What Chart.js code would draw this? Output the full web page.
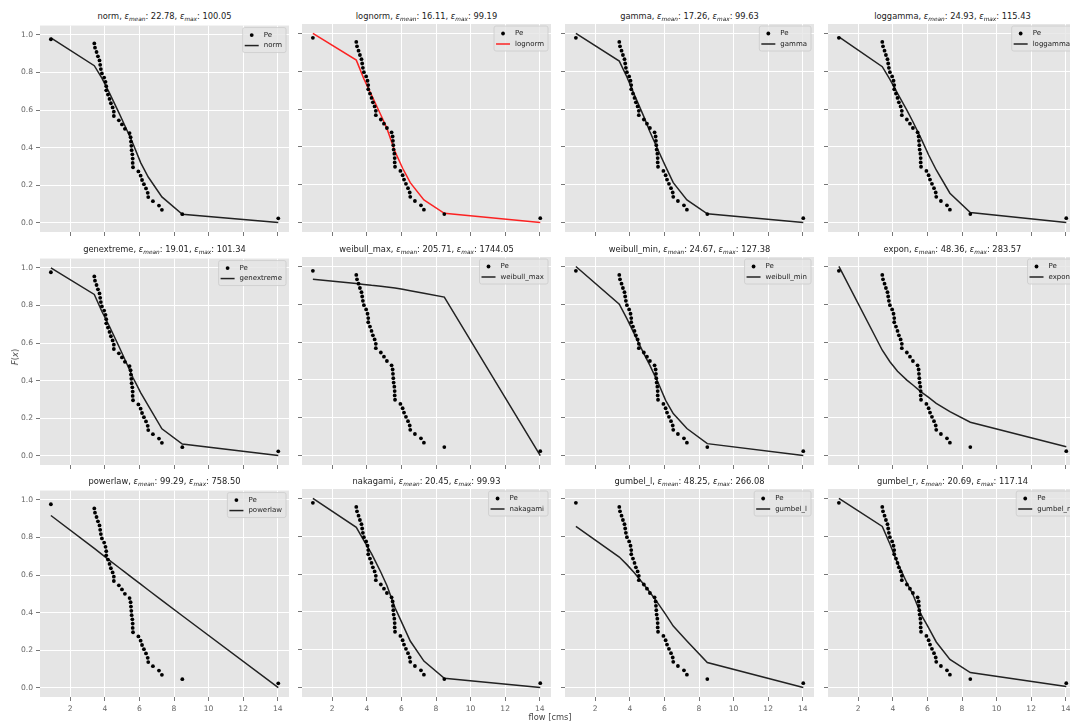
<!DOCTYPE html>
<html lang="en">
<head>
<meta charset="UTF-8">
<title>Flow distribution fits</title>
<script src="https://cdn.jsdelivr.net/npm/chart.js"></script>
<style>
  html, body { margin: 0; padding: 0; background: #fff; overflow: hidden; }
  body { width: 1070px; height: 722px; position: relative; font-family: "DejaVu Sans", sans-serif; }
  .panel { position: absolute; }
  .ttl { position: absolute; text-align: center; font-size: 8.3px; line-height: 12px; color: #222; white-space: nowrap; }
  .ttl .sb { font-size: 0.7em; font-style: italic; position: relative; top: 0.3em; }
  .ylab { position: absolute; left: 15px; top: 357px; font-size: 8.3px; color: #444; transform: translate(-50%, -50%) rotate(-90deg); white-space: nowrap; }
  .xlab { position: absolute; left: 550px; top: 717px; font-size: 8.3px; color: #444; transform: translate(-50%, -50%); white-space: nowrap; }
</style>
</head>
<body>
<div id="fig"></div>
<div class="ylab"><i>F</i>(<i>x</i>)</div>
<div class="xlab">flow [cms]</div>

<script>
// observed flows (sorted) and their exceedance plotting positions
const flowX = [0.88, 3.39, 3.43, 3.52, 3.60, 3.69, 3.73, 3.77, 3.83, 3.96, 4.04, 4.08, 4.08, 4.18, 4.27,
               4.35, 4.45, 4.52, 4.52, 4.81, 4.99, 5.16, 5.43, 5.49, 5.51, 5.53, 5.55, 5.59, 5.61, 5.61,
               5.63, 5.94, 6.07, 6.15, 6.26, 6.38, 6.48, 6.51, 6.78, 7.13, 7.30, 8.48, 14.03];
const peF = [0.977, 0.955, 0.932, 0.909, 0.886, 0.864, 0.841, 0.818, 0.795, 0.773, 0.750, 0.727, 0.705, 0.682, 0.659,
             0.636, 0.614, 0.591, 0.568, 0.545, 0.523, 0.500, 0.477, 0.455, 0.432, 0.409, 0.386, 0.364, 0.341, 0.318,
             0.295, 0.273, 0.250, 0.227, 0.205, 0.182, 0.159, 0.136, 0.114, 0.091, 0.068, 0.045, 0.023];

// flows where the fitted curves are read
const fitX = [0.88, 3.39, 3.83, 4.27, 4.81, 5.16, 5.63, 6.07, 6.51, 7.30, 8.48, 14.03];

const fitNorm       = [0.985, 0.836, 0.770, 0.690, 0.586, 0.516, 0.420, 0.320, 0.243, 0.137, 0.044, 0.000];
const fitLognorm    = [1.000, 0.859, 0.760, 0.674, 0.569, 0.498, 0.375, 0.287, 0.211, 0.120, 0.049, 0.000];
const fitGamma      = [1.000, 0.854, 0.770, 0.674, 0.560, 0.480, 0.384, 0.296, 0.211, 0.120, 0.046, 0.000];
const fitLoggamma   = [0.982, 0.824, 0.757, 0.683, 0.595, 0.533, 0.445, 0.357, 0.278, 0.155, 0.053, 0.000];
const fitGenextreme = [1.000, 0.859, 0.768, 0.688, 0.583, 0.512, 0.415, 0.336, 0.266, 0.143, 0.062, 0.000];
const fitWeibullMax = [0.932, 0.910, 0.905, 0.900, 0.895, 0.891, 0.886, 0.879, 0.872, 0.858, 0.838, 0.000];
const fitWeibullMin = [1.000, 0.800, 0.724, 0.641, 0.539, 0.477, 0.386, 0.292, 0.222, 0.143, 0.063, 0.000];
const fitExpon      = [1.000, 0.557, 0.496, 0.446, 0.399, 0.373, 0.337, 0.308, 0.276, 0.232, 0.176, 0.047];
const fitPowerlaw   = [0.917, 0.742, 0.710, 0.678, 0.640, 0.615, 0.582, 0.551, 0.520, 0.465, 0.383, 0.000];
const fitNakagami   = [1.000, 0.847, 0.777, 0.708, 0.610, 0.540, 0.422, 0.334, 0.246, 0.140, 0.049, 0.000];
const fitGumbelL    = [0.852, 0.690, 0.650, 0.606, 0.545, 0.504, 0.445, 0.387, 0.325, 0.246, 0.132, 0.000];
const fitGumbelR    = [1.000, 0.852, 0.759, 0.659, 0.554, 0.492, 0.387, 0.316, 0.241, 0.149, 0.079, 0.005];

const distNames = ['norm', 'lognorm', 'gamma', 'loggamma', 'genextreme', 'weibull_max',
                   'weibull_min', 'expon', 'powerlaw', 'nakagami', 'gumbel_l', 'gumbel_r'];
const errMean = ['22.78', '16.11', '17.26', '24.93', '19.01', '205.71', '24.67', '48.36', '99.29', '20.45', '48.25', '20.69'];
const errMax  = ['100.05', '99.19', '99.63', '115.43', '101.34', '1744.05', '127.38', '283.57', '758.50', '99.93', '266.08', '117.14'];
const fitF = [fitNorm, fitLognorm, fitGamma, fitLoggamma, fitGenextreme, fitWeibullMax,
              fitWeibullMin, fitExpon, fitPowerlaw, fitNakagami, fitGumbelL, fitGumbelR];
const bestFit = 'lognorm';

// panel geometry (plot areas)
const colLeft = [40, 302, 565, 828];
const rowTop = [24, 257, 489];
const plotW = 249, plotH = 208;
const padL = 40, padR = 12, padT = 6, padB = 21;

const tickFont = { family: 'DejaVu Sans', size: 7.6 };

// grey panel background
const panelBg = {
  id: 'panelBg',
  beforeDraw(chart) {
    const a = chart.chartArea, ctx = chart.ctx;
    ctx.save();
    ctx.fillStyle = '#E5E5E5';
    ctx.fillRect(a.left, a.top, a.right - a.left, a.bottom - a.top);
    ctx.restore();
  }
};

// legend drawn inside the upper right corner
const insetLegend = {
  id: 'insetLegend',
  afterDatasetsDraw(chart) {
    const a = chart.chartArea, ctx = chart.ctx;
    const sets = chart.data.datasets;
    ctx.save();
    ctx.font = '7px "DejaVu Sans"';
    const tw = Math.max(...sets.map(d => ctx.measureText(d.label).width));
    const w = 2 + 14 + 5 + tw + 4, h = 25;
    const x0 = a.right - 3 - w, y0 = a.top + 2;
    ctx.fillStyle = 'rgba(229,229,229,0.8)';
    ctx.strokeStyle = '#cccccc';
    ctx.lineWidth = 0.8;
    ctx.beginPath();
    ctx.roundRect(x0, y0, w, h, 2);
    ctx.fill();
    ctx.stroke();

    const hx = x0 + 2, r1 = y0 + 7.5, r2 = y0 + 18;
    ctx.fillStyle = '#000';
    ctx.beginPath();
    ctx.arc(hx + 7, r1, 1.9, 0, Math.PI * 2);
    ctx.fill();
    ctx.strokeStyle = sets[1].borderColor;
    ctx.lineWidth = 1.5;
    ctx.beginPath();
    ctx.moveTo(hx, r2);
    ctx.lineTo(hx + 14, r2);
    ctx.stroke();

    ctx.fillStyle = '#222';
    ctx.textBaseline = 'middle';
    ctx.fillText(sets[0].label, hx + 19, r1);
    ctx.fillText(sets[1].label, hx + 19, r2);
    ctx.restore();
  }
};

const fig = document.getElementById('fig');

distNames.forEach((name, k) => {
  const row = Math.floor(k / 4), col = k % 4;
  const left = colLeft[col], top = rowTop[row];

  const ttl = document.createElement('div');
  ttl.className = 'ttl';
  ttl.style.left = left + 'px';
  ttl.style.width = plotW + 'px';
  ttl.style.top = (top - 14) + 'px';
  ttl.innerHTML = name + ', <i>ε</i><span class="sb">mean</span>: ' + errMean[k] +
                  ', <i>ε</i><span class="sb">max</span>: ' + errMax[k];
  fig.appendChild(ttl);

  const canvas = document.createElement('canvas');
  canvas.className = 'panel';
  canvas.width = plotW + padL + padR;
  canvas.height = plotH + padT + padB;
  canvas.style.left = (left - padL) + 'px';
  canvas.style.top = (top - padT) + 'px';
  fig.appendChild(canvas);

  const lineColor = name === bestFit ? 'rgba(255,0,0,0.85)' : '#222222';

  new Chart(canvas.getContext('2d'), {
    type: 'scatter',
    data: {
      datasets: [
        {
          label: 'Pe',
          data: flowX.map((x, i) => ({ x: x, y: peF[i] })),
          showLine: false,
          pointRadius: 1.9,
          pointBackgroundColor: '#000',
          pointBorderWidth: 0,
          order: 1
        },
        {
          label: name,
          data: fitX.map((x, i) => ({ x: x, y: fitF[k][i] })),
          showLine: true,
          borderColor: lineColor,
          borderWidth: 1.5,
          pointRadius: 0,
          fill: false,
          tension: 0,
          order: 2
        }
      ]
    },
    options: {
      responsive: false,
      animation: false,
      events: [],
      layout: { padding: { top: padT, right: padR, left: 0, bottom: 0 } },
      plugins: {
        legend: { display: false },
        tooltip: { enabled: false }
      },
      scales: {
        x: {
          type: 'linear',
          min: 0.25,
          max: 14.65,
          afterFit: s => { s.height = padB; },
          border: { display: false },
          grid: { color: '#ffffff', lineWidth: 1, tickColor: '#777', tickLength: 4 },
          ticks: {
            stepSize: 2,
            includeBounds: false,
            display: row === 2,
            autoSkip: false,
            maxRotation: 0,
            padding: 3,
            color: '#666',
            font: tickFont
          }
        },
        y: {
          min: -0.05,
          max: 1.05,
          afterFit: s => { s.width = padL; },
          border: { display: false },
          grid: { color: '#ffffff', lineWidth: 1, tickColor: '#777', tickLength: 4 },
          ticks: {
            stepSize: 0.2,
            includeBounds: false,
            display: col === 0,
            padding: 3,
            color: '#666',
            font: tickFont,
            callback: v => v.toFixed(1)
          }
        }
      }
    },
    plugins: [panelBg, insetLegend]
  });
});
</script>
</body>
</html>
